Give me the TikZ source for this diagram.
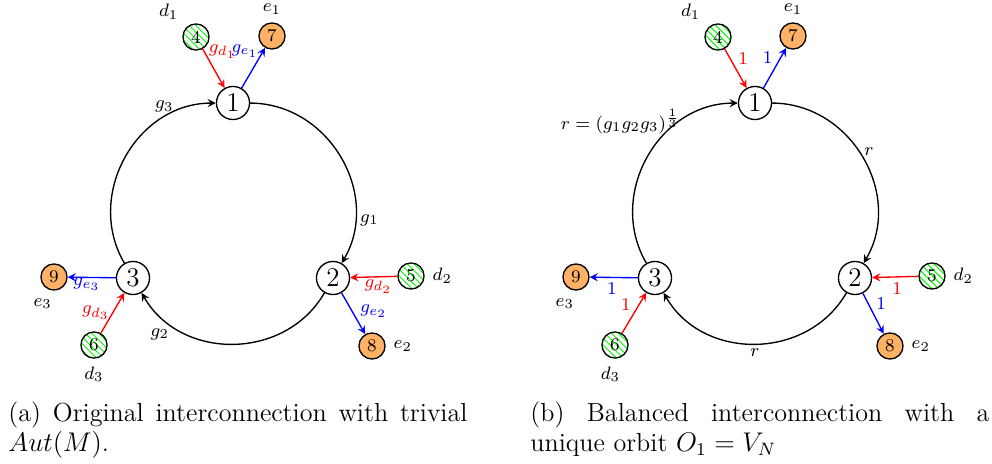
\documentclass[tikz,border=0pt]{standalone}
\usepackage{fontspec}
\usetikzlibrary{patterns}
\begin{document}
\begin{tikzpicture}[
  x=44.44pt, y=44.44pt, >=stealth,
  agent/.style={draw, circle, semithick, minimum size=14.7pt, inner sep=0pt, font=\large},
  dnode/.style={draw, circle, semithick, minimum size=11.6pt, inner sep=0pt,
    font=\footnotesize, pattern=north west lines, pattern color=green},
  enode/.style={draw, circle, semithick, minimum size=11.6pt, inner sep=0pt,
    font=\footnotesize, fill=orange!60},
  lab/.style={font=\footnotesize},
  ring/.style={->, semithick, bend left=60, looseness=1.1},
  inarr/.style={->, semithick, red},
  outarr/.style={->, semithick, blue},
  captext/.style={text width=204pt, align=justify, inner sep=0pt, anchor=north west,
    font=\fontsize{11.6}{13.4}\selectfont}
]
  \useasboundingbox (0,0) rectangle (9.92,4.64);

  % (a) 原始互联
  \node[agent] (a1) at (2.33,3.61) {1};
  \node[agent] (a2) at (3.33,1.86) {2};
  \node[agent] (a3) at (1.33,1.86) {3};
  \node[dnode, label={[lab]above left:$d_1$}] (a4) at (1.96,4.27) {4};
  \node[enode, label={[lab]above:$e_1$}] (a7) at (2.72,4.28) {7};
  \node[dnode, label={[lab]right:$d_2$}] (a5) at (4.11,1.88) {5};
  \node[enode, label={[lab]right:$e_2$}] (a8) at (3.72,1.18) {8};
  \node[enode, label={[lab, xshift=-5pt]below:$e_3$}] (a9) at (0.54,1.87) {9};
  \node[dnode, label={[lab]below:$d_3$}] (a6) at (0.94,1.19) {6};

  \draw[ring] (a1) to node[lab, pos=0.8, anchor=west, inner sep=2pt] {$g_1$} (a2);
  \draw[ring] (a2) to node[lab, pos=0.8, anchor=north east, inner sep=1pt] {$g_2$} (a3);
  \draw[ring] (a3) to node[lab, pos=0.76, anchor=south, inner sep=2pt] {$g_3$} (a1);
  \draw[inarr] (a4) -- node[lab, pos=0.25, anchor=south west, inner sep=0pt] {$g_{d_1}$} (a1);
  \draw[outarr] (a1) -- node[lab, pos=0.75, anchor=south east, inner sep=0pt] {$g_{e_1}$} (a7);
  \draw[inarr] (a5) -- node[lab, pos=0.4, anchor=north, inner sep=1pt] {$g_{d_2}$} (a2);
  \draw[outarr] (a2) -- node[lab, pos=0.45, anchor=west] {$g_{e_2}$} (a8);
  \draw[outarr] (a3) -- node[lab, pos=0.6, anchor=north, inner sep=0pt] {$g_{e_3}$} (a9);
  \draw[inarr] (a6) -- node[lab, pos=0.5, anchor=east, inner sep=1pt] {$g_{d_3}$} (a3);

  % (b) 平衡互联
  \begin{scope}[shift={(5.22,0)}]
    \node[agent] (b1) at (2.33,3.61) {1};
    \node[agent] (b2) at (3.33,1.86) {2};
    \node[agent] (b3) at (1.33,1.86) {3};
    \node[dnode, label={[lab]above left:$d_1$}] (b4) at (1.96,4.27) {4};
    \node[enode, label={[lab]above:$e_1$}] (b7) at (2.71,4.28) {7};
    \node[dnode, label={[lab]right:$d_2$}] (b5) at (4.10,1.88) {5};
    \node[enode, label={[lab]right:$e_2$}] (b8) at (3.68,1.18) {8};
    \node[enode, label={[lab, xshift=-5pt]below:$e_3$}] (b9) at (0.54,1.87) {9};
    \node[dnode, label={[lab, xshift=-2pt]below:$d_3$}] (b6) at (0.93,1.19) {6};
  \end{scope}

  \draw[ring] (b1) to node[lab, midway, anchor=south west, inner sep=0.5pt] {$r$} (b2);
  \draw[ring] (b2) to node[lab, midway, anchor=north, inner sep=2pt] {$r$} (b3);
  \draw[ring] (b3) to node[lab, pos=0.62, anchor=south east, inner sep=1pt, xshift=9pt] {$r=(g_1g_2g_3)^{\frac{1}{3}}$} (b1);
  \draw[inarr] (b4) -- node[lab, pos=0.25, anchor=west] {1} (b1);
  \draw[outarr] (b1) -- node[lab, pos=0.75, anchor=east] {1} (b7);
  \draw[inarr] (b5) -- node[lab, pos=0.46, anchor=north, inner sep=2pt] {1} (b2);
  \draw[outarr] (b2) -- node[lab, pos=0.25, anchor=west] {1} (b8);
  \draw[outarr] (b3) -- node[lab, pos=0.54, anchor=north, inner sep=2pt] {1} (b9);
  \draw[inarr] (b6) -- node[lab, pos=0.7, anchor=east] {1} (b3);

  % 子图标题
  \node[captext] (capa) at (0.08,0.63) {(a) Original interconnection with trivial $Aut(M)$.};
  \node[captext] (capb) at (5.30,0.63) {(b) Balanced interconnection with a unique orbit $O_1 = V_N$};
\end{tikzpicture}
\end{document}
